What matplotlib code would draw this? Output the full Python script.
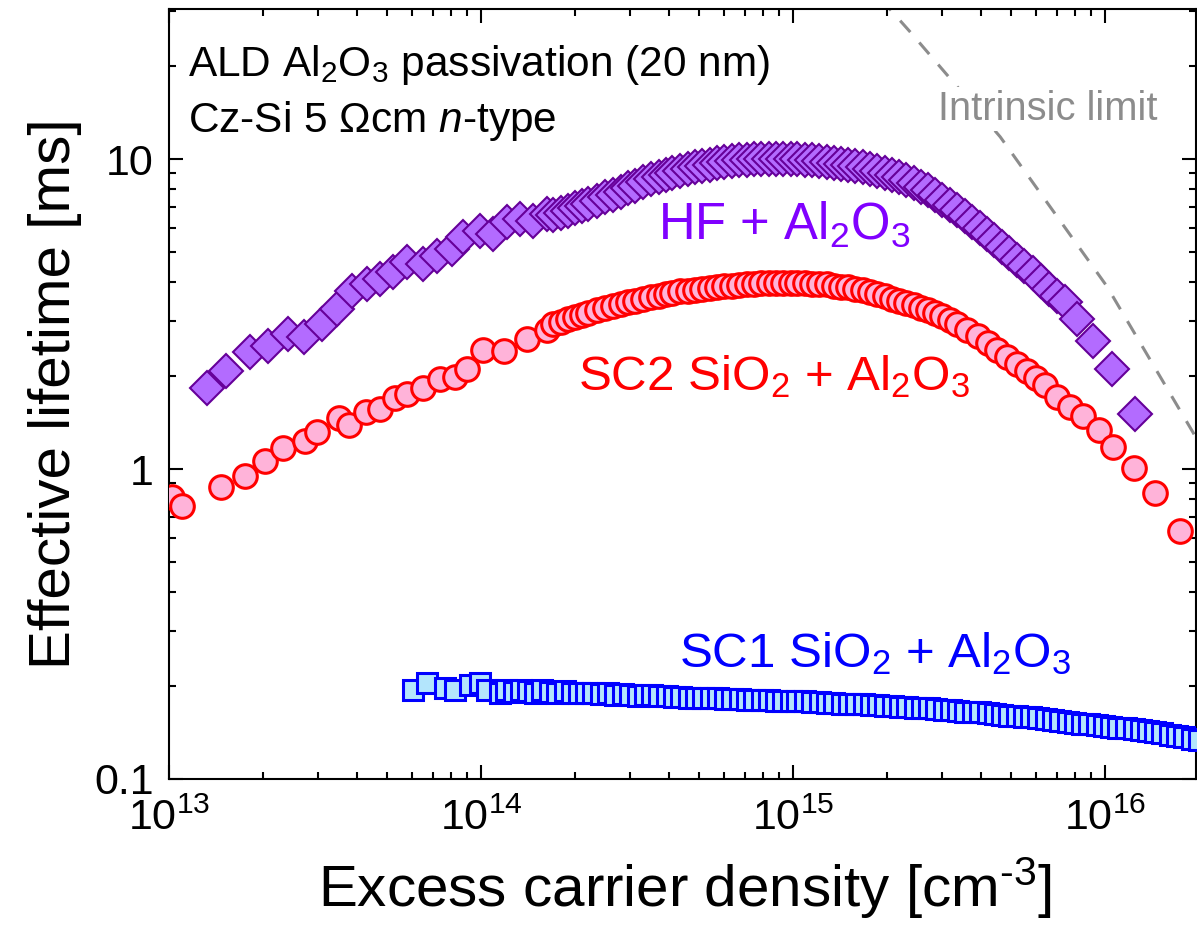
"""
Effective lifetime vs excess carrier density for ALD Al2O3 passivated Cz-Si
"""
import matplotlib
matplotlib.use('Agg')
import matplotlib.pyplot as plt
from matplotlib.ticker import NullFormatter

plt.rcParams['font.family'] = 'Liberation Sans'
plt.rcParams['mathtext.fontset'] = 'custom'
plt.rcParams['mathtext.rm'] = 'Liberation Sans'
plt.rcParams['mathtext.it'] = 'Liberation Sans:italic'
plt.rcParams['mathtext.default'] = 'regular'

# HF + Al2O3 (diamonds)
hf_n = [1.32e13, 1.52e13, 1.82e13, 2.08e13, 2.41e13, 2.71e13, 3.09e13, 3.46e13,
        3.86e13, 4.31e13, 4.75e13, 5.22e13, 5.79e13, 6.52e13, 7.23e13, 8.07e13,
        8.76e13, 9.93e13, 1.09e14, 1.21e14, 1.33e14, 1.47e14, 1.63e14,
        1.70e14, 1.80e14, 1.90e14, 2.00e14, 2.10e14, 2.20e14, 2.35e14, 2.50e14,
        2.65e14, 2.80e14, 2.95e14, 3.10e14, 3.30e14, 3.50e14, 3.70e14, 3.90e14,
        4.10e14, 4.35e14, 4.60e14, 4.85e14, 5.10e14, 5.40e14, 5.70e14, 6.00e14,
        6.35e14, 6.70e14, 7.10e14, 7.50e14, 7.90e14, 8.35e14, 8.80e14, 9.30e14,
        9.80e14, 1.03e15, 1.09e15, 1.15e15, 1.21e15, 1.28e15, 1.35e15, 1.42e15,
        1.50e15, 1.58e15, 1.67e15, 1.76e15, 1.86e15, 1.96e15, 2.07e15, 2.18e15,
        2.30e15, 2.43e15, 2.56e15, 2.70e15, 2.85e15, 3.00e15, 3.17e15, 3.35e15,
        3.54e15, 3.74e15, 3.95e15, 4.17e15, 4.40e15, 4.65e15, 4.90e15, 5.20e15,
        5.50e15, 5.85e15, 6.20e15, 6.60e15, 7.00e15, 7.40e15, 8.13e15, 9.15e15,
        1.053e16, 1.24e16]
hf_tau = [1.83, 2.07, 2.38, 2.49, 2.72, 2.66, 2.93, 3.28,
          3.75, 3.95, 4.10, 4.31, 4.65, 4.58, 4.86, 5.12,
          5.60, 5.85, 5.73, 6.26, 6.40, 6.31, 6.64,
          6.58, 6.70, 6.82, 6.95, 7.05, 7.18, 7.35, 7.52,
          7.66, 7.86, 8.05, 8.20, 8.42, 8.62, 8.78, 8.90,
          9.04, 9.16, 9.30, 9.42, 9.50, 9.60, 9.70, 9.77,
          9.85, 9.92, 9.97, 10.0, 10.0, 10.0, 10.0, 10.0,
          10.0, 9.98, 9.95, 9.90, 9.85, 9.80, 9.74, 9.66,
          9.58, 9.50, 9.40, 9.30, 9.17, 9.04, 8.90, 8.76,
          8.58, 8.38, 8.15, 7.92, 7.66, 7.40, 7.12, 6.85,
          6.56, 6.28, 6.00, 5.74, 5.48, 5.22, 4.98, 4.74,
          4.52, 4.28, 4.05, 3.82, 3.62, 3.45, 3.04, 2.58,
          2.10, 1.51]

# SC2 SiO2 + Al2O3 (circles)
sc2_n = [1.02e13, 1.10e13, 1.47e13, 1.75e13, 2.03e13, 2.32e13, 2.73e13, 2.98e13,
         3.51e13, 3.78e13, 4.28e13, 4.75e13, 5.30e13, 5.79e13, 6.52e13, 7.39e13,
         8.26e13, 9.02e13, 1.015e14, 1.18e14, 1.40e14, 1.63e14,
         1.70e14, 1.80e14, 1.90e14, 2.00e14, 2.10e14, 2.20e14, 2.35e14, 2.50e14,
         2.65e14, 2.80e14, 2.95e14, 3.10e14, 3.30e14, 3.50e14, 3.70e14, 3.90e14,
         4.10e14, 4.35e14, 4.60e14, 4.85e14, 5.10e14, 5.40e14, 5.70e14, 6.00e14,
         6.35e14, 6.70e14, 7.10e14, 7.50e14, 7.90e14, 8.35e14, 8.80e14, 9.30e14,
         9.80e14, 1.03e15, 1.09e15, 1.15e15, 1.21e15, 1.28e15, 1.35e15, 1.42e15,
         1.50e15, 1.58e15, 1.67e15, 1.76e15, 1.86e15, 1.96e15, 2.07e15, 2.18e15,
         2.30e15, 2.43e15, 2.56e15, 2.70e15, 2.85e15, 3.00e15, 3.17e15, 3.35e15,
         3.60e15, 3.90e15, 4.20e15, 4.50e15, 4.85e15, 5.20e15, 5.60e15, 6.00e15,
         6.40e15, 7.00e15, 7.70e15, 8.50e15, 9.50e15, 1.06e16, 1.23e16, 1.44e16,
         1.73e16]
sc2_tau = [0.815, 0.762, 0.878, 0.953, 1.065, 1.17, 1.23, 1.32,
           1.46, 1.39, 1.53, 1.56, 1.70, 1.74, 1.83, 1.95,
           1.98, 2.10, 2.43, 2.40, 2.62, 2.82,
           2.93, 2.98, 3.04, 3.09, 3.13, 3.18, 3.25, 3.31,
           3.36, 3.41, 3.45, 3.49, 3.54, 3.58, 3.62, 3.66,
           3.70, 3.74, 3.76, 3.79, 3.81, 3.84, 3.87, 3.89,
           3.91, 3.92, 3.94, 3.96, 3.97, 3.98, 3.98, 3.98,
           3.98, 3.98, 3.97, 3.96, 3.95, 3.94, 3.91, 3.88,
           3.86, 3.82, 3.77, 3.72, 3.66, 3.61, 3.55, 3.49,
           3.43, 3.38, 3.32, 3.26, 3.19, 3.11, 3.03, 2.93,
           2.82, 2.68, 2.55, 2.43, 2.30, 2.19, 2.07, 1.97,
           1.87, 1.71, 1.59, 1.48, 1.34, 1.18, 1.01, 0.84,
           0.63]

# SC1 SiO2 + Al2O3 (squares)
sc1_n = [6.05e13, 6.71e13, 7.67e13, 8.26e13, 9.22e13, 9.93e13, 1.045e14, 1.15e14,
         1.20e14, 1.27e14, 1.34e14, 1.41e14, 1.49e14, 1.57e14, 1.66e14, 1.75e14,
         1.85e14, 1.95e14, 2.06e14, 2.17e14, 2.29e14, 2.42e14, 2.55e14, 2.69e14,
         2.84e14, 3.00e14, 3.17e14, 3.34e14, 3.53e14, 3.72e14, 3.93e14, 4.15e14,
         4.38e14, 4.62e14, 4.87e14, 5.14e14, 5.43e14, 5.73e14, 6.04e14, 6.38e14,
         6.73e14, 7.10e14, 7.49e14, 7.91e14, 8.34e14, 8.80e14, 9.29e14, 9.80e14,
         1.03e15, 1.09e15, 1.15e15, 1.22e15, 1.28e15, 1.35e15, 1.43e15, 1.51e15,
         1.59e15, 1.68e15, 1.77e15, 1.87e15, 1.97e15, 2.08e15, 2.20e15, 2.32e15,
         2.45e15, 2.58e15, 2.72e15, 2.87e15, 3.03e15, 3.20e15, 3.38e15, 3.56e15,
         3.76e15, 3.97e15, 4.19e15, 4.42e15, 4.66e15, 4.92e15, 5.19e15, 5.48e15,
         5.78e15, 6.10e15, 6.43e15, 6.79e15, 7.16e15, 7.56e15, 7.97e15, 8.41e15,
         8.88e15, 9.37e15, 9.88e15, 1.04e16, 1.10e16, 1.16e16, 1.23e16, 1.30e16,
         1.37e16, 1.44e16, 1.52e16, 1.61e16, 1.70e16, 1.79e16, 1.89e16, 1.99e16]
sc1_tau = [0.194, 0.204, 0.197, 0.194, 0.201, 0.204, 0.194, 0.190,
           0.193, 0.191, 0.194, 0.192, 0.190, 0.193, 0.191, 0.190,
           0.192, 0.190, 0.190, 0.189, 0.190, 0.188, 0.189, 0.187,
           0.188, 0.187, 0.185, 0.187, 0.186, 0.185, 0.185, 0.184,
           0.184, 0.183, 0.183, 0.182, 0.182, 0.182, 0.181, 0.181,
           0.181, 0.180, 0.180, 0.180, 0.180, 0.179, 0.179, 0.179,
           0.178, 0.178, 0.177, 0.177, 0.176, 0.176, 0.175, 0.175,
           0.174, 0.174, 0.173, 0.173, 0.172, 0.172, 0.171, 0.171,
           0.170, 0.169, 0.169, 0.168, 0.167, 0.167, 0.166, 0.165,
           0.164, 0.164, 0.163, 0.162, 0.161, 0.160, 0.160, 0.159,
           0.158, 0.157, 0.156, 0.155, 0.154, 0.153, 0.152, 0.151,
           0.150, 0.149, 0.148, 0.147, 0.146, 0.146, 0.145, 0.144,
           0.143, 0.142, 0.141, 0.139, 0.138, 0.137, 0.135, 0.134]

# Intrinsic limit (dashed)
intr_n = [1.9e15, 2.37e15, 4.6e15, 1.01e16, 1.91e16, 2.5e16]
intr_tau = [33.0, 25.7, 11.8, 3.89, 1.31, 0.80]

x_ticks = [1e13, 1e14, 1e15, 1e16]
x_labels = ['10$^{13}$', '10$^{14}$', '10$^{15}$', '10$^{16}$']
y_ticks = [0.1, 1, 10]
y_labels = ['0.1', '1', '10']

fig = plt.figure(figsize=(11.97, 9.36), dpi=100)
ax = fig.add_axes([169/1197, 1 - 779/936, 1027/1197, 770/936])

ax.plot(intr_n, intr_tau, color='#8c8c8c', lw=2.2, ls=(0, (5, 4.5)), zorder=1)
ax.plot(hf_n, hf_tau, ls='none', marker='D', ms=17.5, mfc='#b36bff', mec='#660099',
        mew=1.5, zorder=3)
ax.plot(sc2_n, sc2_tau, ls='none', marker='o', ms=17, mfc='#ffb3d9', mec='#ff0000',
        mew=2.2, zorder=3)
ax.plot(sc1_n, sc1_tau, ls='none', marker='s', ms=15, mfc='#b3e5fc', mec='#0000ff',
        mew=2.2, zorder=3)

ax.set_xscale('log')
ax.set_yscale('log')
ax.set_xlim(1e13, 1.95e16)
ax.set_ylim(0.1, 30.5)
ax.set_xticks(x_ticks)
ax.set_xticklabels(x_labels)
ax.set_yticks(y_ticks)
ax.set_yticklabels(y_labels)
ax.xaxis.set_minor_formatter(NullFormatter())
ax.yaxis.set_minor_formatter(NullFormatter())
ax.tick_params(which='both', direction='in', top=True, right=True, width=1.5)
ax.tick_params(which='major', length=10, labelsize=31)
ax.tick_params(which='minor', length=5)
ax.tick_params(axis='x', pad=14)
ax.tick_params(axis='y', pad=11)
for s in ax.spines.values():
    s.set_linewidth(1.5)

ax.set_xlabel('Excess carrier density [cm$^{\\text{-}3}$]', fontsize=42)
ax.xaxis.label.set_va('baseline')
ax.xaxis.set_label_coords(0.502, -0.166)
ax.set_ylabel('Effective lifetime [ms]', fontsize=42)
ax.yaxis.label.set_va('baseline')
ax.yaxis.set_label_coords(-0.096, 0.5)

ax.text(0.0185, 0.913, 'ALD Al$_2$O$_3$ passivation (20 nm)', transform=ax.transAxes,
        fontsize=30.5, va='baseline')
ax.text(0.0185, 0.840, 'Cz-Si 5 \u03a9cm $\\it{n}$-type', transform=ax.transAxes,
        fontsize=30.5, va='baseline')
ax.text(0.749, 0.856, 'Intrinsic limit', transform=ax.transAxes, fontsize=28.7,
        va='baseline', color='#8c8c8c', zorder=2,
        bbox=dict(facecolor='white', edgecolor='none', pad=2))
ax.text(0.476, 0.702, 'HF + Al$_2$O$_3$', transform=ax.transAxes, fontsize=36.5,
        va='baseline', color='#8000ff')
ax.text(0.398, 0.505, 'SC2 SiO$_2$ + Al$_2$O$_3$', transform=ax.transAxes, fontsize=35.5,
        va='baseline', color='#ff0000')
ax.text(0.497, 0.145, 'SC1 SiO$_2$ + Al$_2$O$_3$', transform=ax.transAxes, fontsize=35.5,
        va='baseline', color='#0000ff')

fig.savefig('out.png', dpi=100)
